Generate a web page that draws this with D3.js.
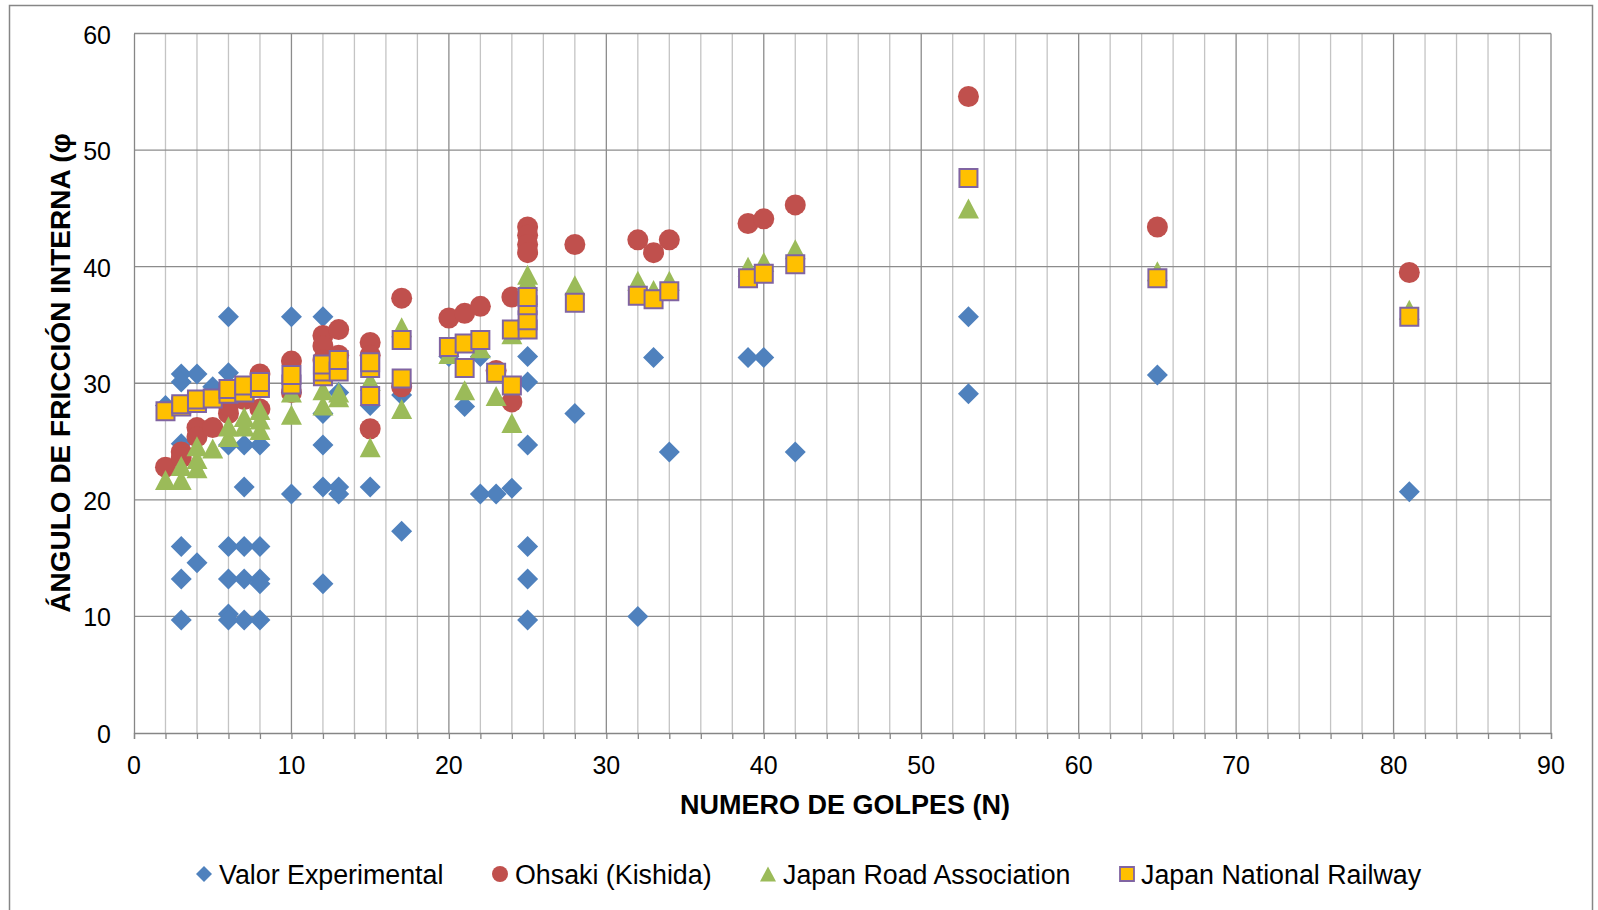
<!DOCTYPE html>
<html>
<head>
<meta charset="utf-8">
<script src="https://cdn.jsdelivr.net/npm/d3@7"></script>
<style>
  html, body { margin: 0; padding: 0; background: #fff; }
  svg { display: block; }
  text { font-family: "Liberation Sans", Arial, sans-serif; fill: #000; }
</style>
</head>
<body>
<svg id="chart" width="1598" height="910"></svg>
<script>
// ---------------- DATA ----------------
const xTicks = [0, 10, 20, 30, 40, 50, 60, 70, 80, 90];
const yTicks = [0, 10, 20, 30, 40, 50, 60];
const seriesNames = ["Valor Experimental", "Ohsaki (Kishida)", "Japan Road Association", "Japan National Railway"];

// [N, angle]
const valorExperimental = [
  [2, 28.1],
  [3, 30.8], [3, 30.1], [3, 24.8], [3, 16.0], [3, 13.2], [3, 9.7],
  [4, 30.8], [4, 14.6],
  [5, 29.7],
  [6, 35.7], [6, 30.9], [6, 24.7], [6, 16.0], [6, 13.2], [6, 10.2], [6, 9.7],
  [7, 24.7], [7, 21.1], [7, 16.0], [7, 13.2], [7, 9.7],
  [8, 24.7], [8, 16.0], [8, 13.2], [8, 12.8], [8, 9.7],
  [10, 35.7], [10, 20.5],
  [12, 35.7], [12, 27.4], [12, 24.7], [12, 21.1], [12, 12.8],
  [13, 29.2], [13, 21.1], [13, 20.5],
  [15, 28.1], [15, 21.1],
  [17, 29.0], [17, 17.3],
  [20, 32.3],
  [21, 28.0],
  [22, 32.3], [22, 20.5],
  [23, 20.5],
  [24, 21.0],
  [25, 32.3], [25, 30.1], [25, 24.7], [25, 16.0], [25, 13.2], [25, 9.7],
  [28, 27.4],
  [32, 10.0],
  [33, 32.2],
  [34, 24.1],
  [39, 32.2],
  [40, 32.2],
  [42, 24.1],
  [53, 35.7], [53, 29.1],
  [65, 30.7],
  [81, 20.7]
];

const ohsakiKishida = [
  [2, 22.8],
  [3, 24.1], [3, 23.6],
  [4, 26.2], [4, 25.4],
  [5, 26.2],
  [6, 27.4], [6, 28.1],
  [7, 28.6], [7, 29.4],
  [8, 30.8], [8, 27.8],
  [10, 31.9], [10, 29.2],
  [12, 34.1], [12, 33.2], [12, 32.0],
  [13, 34.6], [13, 32.4],
  [15, 33.5], [15, 32.4], [15, 26.1],
  [17, 37.3], [17, 29.7],
  [20, 35.6],
  [21, 36.0],
  [22, 36.6],
  [23, 31.1],
  [24, 37.4], [24, 28.4],
  [25, 43.4], [25, 42.7], [25, 41.9], [25, 41.2],
  [28, 41.9],
  [32, 42.3],
  [33, 41.2],
  [34, 42.3],
  [39, 43.7],
  [40, 44.1],
  [42, 45.3],
  [53, 54.6],
  [65, 43.4],
  [81, 39.5]
];

const japanRoadAssociation = [
  [2, 21.7],
  [3, 21.7], [3, 22.9],
  [4, 22.7], [4, 23.5], [4, 24.6],
  [5, 24.4],
  [6, 25.4], [6, 26.3],
  [7, 26.3], [7, 27.1],
  [8, 26.0], [8, 26.9], [8, 27.7],
  [10, 27.3], [10, 29.2],
  [12, 28.1], [12, 29.4],
  [13, 28.8], [13, 29.2],
  [15, 24.5], [15, 30.2],
  [17, 27.8], [17, 34.8],
  [20, 32.5],
  [21, 29.4],
  [22, 33.0],
  [23, 28.9],
  [24, 26.6], [24, 34.2],
  [25, 39.3], [25, 38.8], [25, 37.6],
  [28, 38.4],
  [32, 38.8],
  [33, 38.0],
  [34, 38.8],
  [39, 40.0],
  [40, 40.4],
  [42, 41.5],
  [53, 45.0],
  [65, 39.6],
  [81, 36.3]
];

const japanNationalRailway = [
  [2, 27.6],
  [3, 28.0], [3, 28.2],
  [4, 28.3], [4, 28.6],
  [5, 28.7],
  [6, 29.1], [6, 29.5],
  [7, 29.2], [7, 29.8],
  [8, 29.6], [8, 30.1],
  [10, 29.9], [10, 30.7],
  [12, 30.6], [12, 31.0], [12, 31.6],
  [13, 31.0], [13, 32.0],
  [15, 28.9], [15, 31.3], [15, 31.8],
  [17, 30.4], [17, 33.7],
  [20, 33.1],
  [21, 31.3], [21, 33.4],
  [22, 33.7],
  [23, 30.9],
  [24, 29.8], [24, 34.6],
  [25, 34.6], [25, 35.4], [25, 36.7], [25, 37.4],
  [28, 36.9],
  [32, 37.5],
  [33, 37.2],
  [34, 37.9],
  [39, 39.0],
  [40, 39.4],
  [42, 40.2],
  [53, 47.6],
  [65, 39.0],
  [81, 35.7]
];

// ---------------- LAYOUT ----------------
const svg = d3.select("#chart");
const plot = { left: 134, right: 1551, top: 33.5, bottom: 733 };

const x = d3.scaleLinear().domain([0, 90]).range([plot.left, plot.right]);
const y = d3.scaleLinear().domain([0, 60]).range([plot.bottom, plot.top]);

// outer chart border
svg.append("rect")
  .attr("x", 9.5).attr("y", 5.5)
  .attr("width", 1583).attr("height", 910)
  .attr("fill", "#fff").attr("stroke", "#868686").attr("stroke-width", 1.5);

// minor vertical gridlines
const minorX = d3.range(2, 90, 2).filter(v => v % 10 !== 0);
svg.append("g").selectAll("line").data(minorX).join("line")
  .attr("x1", d => x(d)).attr("x2", d => x(d))
  .attr("y1", plot.top).attr("y2", plot.bottom)
  .attr("stroke", "#c4c4c4").attr("stroke-width", 1.3);

// major vertical gridlines
svg.append("g").selectAll("line").data(xTicks.filter(v => v > 0)).join("line")
  .attr("x1", d => x(d)).attr("x2", d => x(d))
  .attr("y1", plot.top).attr("y2", plot.bottom)
  .attr("stroke", "#8c8c8c").attr("stroke-width", 1.3);

// horizontal gridlines
svg.append("g").selectAll("line").data(yTicks.filter(v => v > 0)).join("line")
  .attr("x1", plot.left).attr("x2", plot.right)
  .attr("y1", d => y(d)).attr("y2", d => y(d))
  .attr("stroke", "#8c8c8c").attr("stroke-width", 1.3);

// x axis with minor ticks
const xAxis = d3.axisBottom(x).tickValues(d3.range(0, 91, 2)).tickSize(6).tickFormat("");
const gx = svg.append("g").attr("transform", `translate(0,${plot.bottom})`).call(xAxis);
gx.select(".domain").attr("stroke", "#868686").attr("stroke-width", 1.3);
gx.selectAll(".tick line").attr("stroke", "#868686").attr("stroke-width", 1.3);

svg.append("g").selectAll("text").data(xTicks).join("text")
  .attr("x", d => x(d)).attr("y", plot.bottom + 41)
  .attr("text-anchor", "middle")
  .attr("font-size", 25)
  .text(d => d);

// y axis
const yAxis = d3.axisLeft(y).tickValues(yTicks).tickSize(0).tickFormat("");
const gy = svg.append("g").attr("transform", `translate(${plot.left},0)`).call(yAxis);
gy.select(".domain").attr("stroke", "#868686").attr("stroke-width", 1.3);

svg.append("g").selectAll("text").data(yTicks).join("text")
  .attr("x", plot.left - 23).attr("y", d => y(d) + 10)
  .attr("text-anchor", "end")
  .attr("font-size", 25)
  .text(d => d);

// axis titles
svg.append("text")
  .attr("x", 845).attr("y", 814)
  .attr("text-anchor", "middle")
  .attr("font-size", 27).attr("font-weight", "bold")
  .text("NUMERO DE GOLPES (N)");

svg.append("text")
  .attr("transform", `translate(70,373) rotate(-90)`)
  .attr("text-anchor", "middle")
  .attr("font-size", 28).attr("font-weight", "bold")
  .text("ÁNGULO DE FRICCIÓN INTERNA (φ");

// ---------------- MARKERS ----------------
const colors = {
  blue: "#4f81bd", red: "#c0504d", green: "#9bbb59", yellow: "#ffc000", purple: "#8064a2"
};
function diamondPath(r) { return `M0,${-r}L${r},0L0,${r}L${-r},0Z`; }
function trianglePath(w, h) { return `M0,${-h/2}L${w/2},${h/2}L${-w/2},${h/2}Z`; }
function squarePath(s) { const a = s/2; return `M${-a},${-a}H${a}V${a}H${-a}Z`; }

const gMarks = svg.append("g");

gMarks.append("g").selectAll("path").data(valorExperimental).join("path")
  .attr("transform", d => `translate(${x(d[0])},${y(d[1])})`)
  .attr("d", diamondPath(10.5))
  .attr("fill", colors.blue);

gMarks.append("g").selectAll("circle").data(ohsakiKishida).join("circle")
  .attr("cx", d => x(d[0])).attr("cy", d => y(d[1]))
  .attr("r", 10.5)
  .attr("fill", colors.red);

gMarks.append("g").selectAll("path").data(japanRoadAssociation).join("path")
  .attr("transform", d => `translate(${x(d[0])},${y(d[1])})`)
  .attr("d", trianglePath(21, 20))
  .attr("fill", colors.green);

gMarks.append("g").selectAll("path").data(japanNationalRailway).join("path")
  .attr("transform", d => `translate(${x(d[0])},${y(d[1])})`)
  .attr("d", squarePath(18))
  .attr("fill", colors.yellow)
  .attr("stroke", colors.purple).attr("stroke-width", 2);

// ---------------- LEGEND ----------------
const legendY = 874;
const legendItems = [
  { name: seriesNames[0], mx: 204, tx: 219 },
  { name: seriesNames[1], mx: 500, tx: 515 },
  { name: seriesNames[2], mx: 768, tx: 783 },
  { name: seriesNames[3], mx: 1127, tx: 1141 }
];
const lg = svg.append("g");
legendItems.forEach((it, i) => {
  const g = lg.append("g").attr("transform", `translate(${it.mx},${legendY})`);
  if (i === 0) g.append("path").attr("d", diamondPath(8)).attr("fill", colors.blue);
  if (i === 1) g.append("circle").attr("r", 8).attr("fill", colors.red);
  if (i === 2) g.append("path").attr("d", trianglePath(16, 15)).attr("fill", colors.green);
  if (i === 3) g.append("path").attr("d", squarePath(14)).attr("fill", colors.yellow)
      .attr("stroke", colors.purple).attr("stroke-width", 1.8);
  lg.append("text").attr("x", it.tx).attr("y", legendY + 9.5)
    .attr("font-size", 26.8).text(it.name);
});
</script>
</body>
</html>
